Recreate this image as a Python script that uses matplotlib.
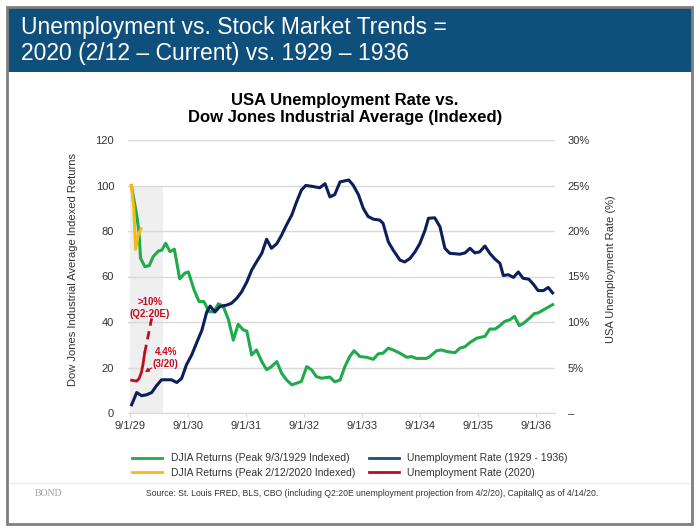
import numpy as np
import matplotlib
matplotlib.use("Agg")
import matplotlib.pyplot as plt
from matplotlib.lines import Line2D
from matplotlib.patches import Rectangle

plt.rcParams['font.family'] = ['Liberation Sans', 'DejaVu Sans']

# months since 9/1/1929
tick_pos = [0, 12, 24, 36, 48, 60, 72, 84]
tick_labels = ['9/1/29', '9/1/30', '9/1/31', '9/1/32', '9/1/33', '9/1/34', '9/1/35', '9/1/36']

# DJIA 1929 (indexed, peak = 100)
djia29_x = [0.3, 1.4, 1.9, 2.2, 3.1, 4.0, 4.8, 5.9, 6.6, 7.4, 8.3, 9.2, 10.3, 11.4, 12.1,
            13.3, 14.3, 15.3, 16.4, 17.4, 18.3, 19.3, 20.4, 21.4, 22.4, 23.5, 24.2, 25.2,
            26.2, 27.3, 28.3, 29.3, 30.4, 31.4, 32.4, 33.5, 34.5, 35.5, 36.6, 37.6, 38.6,
            39.7, 41.4, 42.4, 43.5, 44.5, 45.5, 46.4, 47.6, 49.0, 50.4, 51.4, 52.4, 53.5,
            54.5, 55.9, 57.3, 58.3, 59.3, 61.4, 62.1, 63.5, 64.5, 65.6, 67.3, 68.3, 69.4,
            70.4, 71.8, 73.5, 74.5, 75.6, 76.6, 77.6, 78.7, 79.6, 80.6, 81.4, 82.8, 83.7,
            84.5, 85.9, 87.5]
djia29_y = [100, 87, 79, 68, 64.3, 64.8, 68.7, 71.2, 71.6, 74.6, 70.9, 72, 59, 61.5, 62,
            54, 49, 49, 44.5, 44.5, 48, 47, 41, 32, 39, 36.5, 36, 25.5,
            27.7, 22.6, 19, 20.4, 22.6, 17.5, 14.6, 12.4, 13.1, 13.9, 20.4, 19, 16,
            15.3, 15.8, 13.7, 14.5, 20.4, 24.8, 27.4, 24.8, 24.5, 23.6, 26, 26.3, 28.5,
            27.7, 26.3, 24.5, 24.8, 24, 24, 24.8, 27.4, 27.7, 27, 26.5, 28.5, 29.2,
            31, 32.9, 33.7, 36.9, 36.9, 38.4, 40.3, 41, 42.5, 38.4, 39.3, 41.8, 43.7,
            44, 45.7, 47.6]

# DJIA 2020 (indexed, peak 2/12/2020 = 100)
djia20_x = [0.3, 0.8, 1.17, 1.7, 2.28]
djia20_y = [100, 90, 72, 78, 81]

# unemployment rate 1929 - 1936 (%)
unemp29_x = [0.35, 1.4, 2.4, 3.45, 4.5, 5.5, 6.55, 8.6, 9.7, 10.7, 11.7, 12.8, 13.8, 14.9,
             15.9, 16.6, 17.6, 18.6, 20.0, 21.0, 22.1, 23.1, 24.2, 25.2, 26.2, 27.3, 28.3,
             29.3, 30.4, 31.4, 32.4, 33.5, 34.5, 35.5, 36.4, 37.8, 39.3, 40.4, 41.4, 42.4,
             43.5, 45.3, 46.2, 47.3, 48.3, 49.3, 50.4, 51.7, 52.4, 53.5, 54.5, 55.9, 56.9,
             58.0, 59.0, 60.0, 61.1, 61.8, 63.1, 64.2, 65.2, 66.2, 68.3, 69.4, 70.4, 71.4,
             72.4, 73.5, 74.5, 75.6, 76.6, 77.3, 78.3, 79.4, 80.4, 81.4, 82.6, 83.6, 84.5,
             85.6, 86.6, 87.5]
unemp29_y = [0.9, 2.25, 1.9, 2.0, 2.25, 3.0, 3.65, 3.65, 3.35, 3.8, 5.3, 6.4, 7.7, 9.1,
             11.1, 11.75, 11.1, 11.7, 11.85, 12.05, 12.6, 13.3, 14.4, 15.7, 16.6, 17.55, 19.1,
             18.1, 18.6, 19.55, 20.65, 21.75, 23.2, 24.5, 25.0, 24.9, 24.75, 25.2, 23.75, 24.0,
             25.4, 25.6, 25.05, 24.0, 22.5, 21.6, 21.3, 21.2, 20.85, 18.8, 17.9, 16.8, 16.6,
             17.0, 17.7, 18.6, 20.1, 21.4, 21.45, 20.45, 18.1, 17.55, 17.45, 17.6, 18.1, 17.6,
             17.7, 18.35, 17.55, 16.9, 16.45, 15.1, 15.2, 14.9, 15.5, 14.8, 14.7, 14.1, 13.45,
             13.45, 13.8, 13.2]

# unemployment rate 2020 (%), actual + Q2:20E projection
unemp20_x = [0.35, 1.4, 1.9, 2.4, 2.75, 3.05]
unemp20_y = [3.6, 3.5, 3.8, 4.5, 5.5, 6.6]
proj20_x = [3.05, 4.5]
proj20_y = [6.6, 10.4]

green = '#1fab4c'
yellow = '#f6b915'
navy = '#0c1f5c'
red = '#c00d1e'
grey_txt = '#333333'

fig = plt.figure(figsize=(7, 5.3), dpi=100)

# banner + frame
fig.patches.append(Rectangle((7 / 700, 1 - 72 / 530), 685 / 700, 64 / 530,
                             transform=fig.transFigure, facecolor='#0f4f7c', edgecolor='none', zorder=0))
fig.patches.append(Rectangle((7 / 700, 1 - 524 / 530), 685 / 700, 517 / 530,
                             transform=fig.transFigure, facecolor='none', edgecolor='#7f7f7f',
                             linewidth=2, zorder=5))
fig.add_artist(Line2D([10 / 700, 689 / 700], [1 - 483 / 530] * 2, color='#ececec', lw=1))
fig.text(21 / 700, 1 - 40.5 / 530, 'Unemployment vs. Stock Market Trends =\n2020 (2/12 \u2013 Current) vs. 1929 \u2013 1936',
         color='white', fontsize=16.5, ha='left', va='center', linespacing=1.2)

ax = fig.add_axes([128 / 700, 1 - 413 / 530, 427 / 700, 273 / 530])
ax2 = ax.twinx()

ax.fill_between([0, 6.9], 0, 100, color='#efefef', lw=0, zorder=0)
ax.plot(djia29_x, djia29_y, color=green, lw=2.2, zorder=3)
ax.plot(djia20_x, djia20_y, color=yellow, lw=2.2, zorder=4)
ax2.plot(unemp29_x, unemp29_y, color=navy, lw=2.2, zorder=3)
ax2.plot(unemp20_x, unemp20_y, color=red, lw=2.0, zorder=4)
ax2.plot(proj20_x, proj20_y, color=red, lw=2.0, ls=(0, (3, 2)), zorder=4)

ax.text(4.1, 46.2, '>10%\n(Q2:20E)', color=red, fontsize=7, fontweight='bold',
        ha='center', va='center', linespacing=1.25)
ax.text(7.4, 24.2, '4.4%\n(3/20)', color=red, fontsize=7, fontweight='bold',
        ha='center', va='center', linespacing=1.25)
ax.annotate('', xy=(2.6, 17.4), xytext=(5.0, 20.4),
            arrowprops=dict(arrowstyle='-|>', color=red, lw=0.8, mutation_scale=6))

ax.set_xlim(-0.4, 88)
ax.set_ylim(0, 120)
ax2.set_ylim(0, 30)
ax.set_yticks([0, 20, 40, 60, 80, 100, 120])
ax2.set_yticks([0, 5, 10, 15, 20, 25, 30])
ax2.set_yticklabels(['\u2013', '5%', '10%', '15%', '20%', '25%', '30%'])
ax.set_xticks(tick_pos)
ax.set_xticklabels(tick_labels)

ax.grid(axis='y', color='#d9d9d9', lw=1)
ax.set_axisbelow(True)
for a in (ax, ax2):
    for s in a.spines.values():
        s.set_visible(False)
ax.spines['bottom'].set_visible(True)
ax.spines['bottom'].set_color('#d9d9d9')
ax.tick_params(axis='y', length=0, pad=10, labelsize=8, labelcolor=grey_txt)
ax2.tick_params(axis='y', length=0, pad=9, labelsize=8, labelcolor=grey_txt)
ax.tick_params(axis='x', length=3, color='#d9d9d9', pad=3, labelsize=8, labelcolor=grey_txt)

ax.set_ylabel('Dow Jones Industrial Average Indexed Returns', fontsize=8, color=grey_txt)
ax.yaxis.set_label_coords(-0.117, 0.527)
ax2.set_ylabel('USA Unemployment Rate (%)', fontsize=8, color=grey_txt, rotation=90)
ax2.yaxis.set_label_coords(1.12, 0.527)

fig.text(345 / 700, 1 - 109 / 530, 'USA Unemployment Rate vs.\nDow Jones Industrial Average (Indexed)',
         fontsize=12, fontweight='bold', ha='center', va='center', linespacing=1.1, color='black')

handles = [Line2D([], [], color=green, lw=2), Line2D([], [], color=yellow, lw=2),
           Line2D([], [], color='#1f4e79', lw=2), Line2D([], [], color=red, lw=2)]
labels = ['DJIA Returns (Peak 9/3/1929 Indexed)', 'DJIA Returns (Peak 2/12/2020 Indexed)',
          'Unemployment Rate (1929 - 1936)', 'Unemployment Rate (2020)']
leg = fig.legend(handles, labels, ncol=2, loc='upper center', bbox_to_anchor=(350 / 700, 1 - 444 / 530),
                 frameon=False, fontsize=7.5, handlelength=2.9, columnspacing=1.3,
                 handletextpad=0.8, labelspacing=0.4)
for t in leg.get_texts():
    t.set_color(grey_txt)

fig.text(372 / 700, 1 - 494 / 530,
         'Source: St. Louis FRED, BLS, CBO (including Q2:20E unemployment projection from 4/2/20), CapitalIQ as of 4/14/20.',
         fontsize=6.2, ha='center', va='center', color=grey_txt)
fig.text(48 / 700, 1 - 494 / 530, 'BOND', family=['Liberation Serif', 'DejaVu Serif'],
         fontsize=7, color='#a0a0a0', ha='center', va='center')

fig.savefig('out.png', dpi=100)
